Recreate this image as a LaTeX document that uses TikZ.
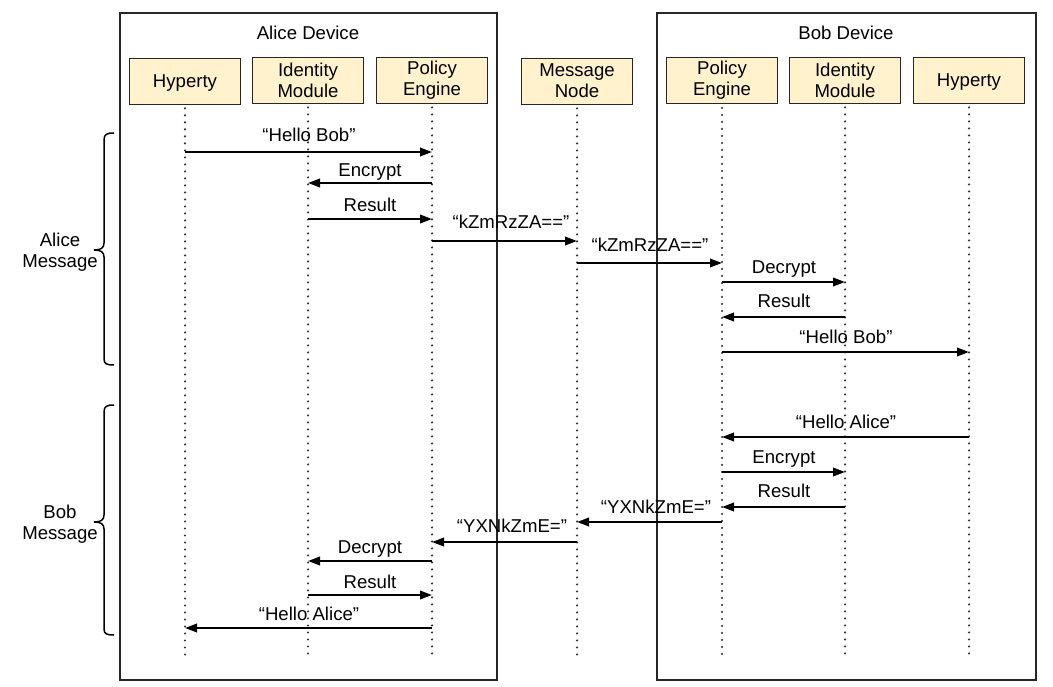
\documentclass[tikz,border=0pt]{standalone}
\usepackage{fontspec}
\setmainfont{Liberation Sans}
\usetikzlibrary{arrows.meta}
\definecolor{boxfill}{HTML}{FFF2CC}
\begin{document}
\begin{tikzpicture}[x=1pt,y=-1pt,
  every node/.style={font=\fontsize{18.6}{21}\selectfont},
  devbox/.style={draw=black!85, line width=1.1pt, minimum width=#1, minimum height=667pt, inner sep=0pt},
  part/.style={draw=black!85, line width=0.9pt, fill=boxfill, minimum width=111pt, minimum height=46pt, inner sep=0pt, align=center},
  life/.style={draw=black!80, line width=2.4pt, line cap=round, dash pattern=on 0pt off 7pt},
  msg/.style={line width=2pt, -{Triangle[length=12pt,width=8.5pt]}},
  lbl/.style={anchor=base, inner sep=0pt},
  brace/.style={line width=1.5pt}]
\useasboundingbox (0,0) rectangle (1053,687);

% device boxes
\node[devbox=377pt] (alice) at (308.5,346.5) {};
\node[devbox=379pt] (bob) at (846.5,346.5) {};
\node[lbl] (alicet) at (308,40) {Alice Device};
\node[lbl] (bobt) at (846,40) {Bob Device};

% participants
\node[part] (aH) at (185,81) {};
\node[lbl] (aHt) at (185,88) {Hyperty};
\node[part] (aI) at (308,80) {Identity\\Module};
\node[part] (aP) at (432,80) {Policy\\Engine};
\node[part] (mn) at (577,81) {Message\\Node};
\node[part] (bP) at (722,80.5) {Policy\\Engine};
\node[part] (bI) at (845,80) {Identity\\Module};
\node[part] (bH) at (969,80) {};
\node[lbl] (bHt) at (969,87) {Hyperty};

% lifelines
\foreach \n in {aH,aI,aP,mn,bP,bI,bH}{
  \draw[life] (\n.south) ++(0,4) -- (\n.south |- 0,659);
}

% Alice message
\draw[msg] (aH |- 0,152) -- (aP |- 0,152);
\node[lbl] (m1) at (309,142) {“Hello Bob”};
\draw[msg] (aP |- 0,183) -- (aI |- 0,183);
\node[lbl] (m2) at (370,177) {Encrypt};
\draw[msg] (aI |- 0,219) -- (aP |- 0,219);
\node[lbl] (m3) at (370,212) {Result};
\draw[msg] (aP |- 0,241) -- (mn |- 0,241);
\node[lbl] (m4) at (511,228.5) {“kZmRzZA==”};
\draw[msg] (mn |- 0,263) -- (bP |- 0,263);
\node[lbl] (m5) at (650,252) {“kZmRzZA==”};
\draw[msg] (bP |- 0,282) -- (bI |- 0,282);
\node[lbl] (m6) at (784,274) {Decrypt};
\draw[msg] (bI |- 0,317) -- (bP |- 0,317);
\node[lbl] (m7) at (784,308) {Result};
\draw[msg] (bP |- 0,352) -- (bH |- 0,352);
\node[lbl] (m8) at (846,343) {“Hello Bob”};

% Bob message
\draw[msg] (bH |- 0,437) -- (bP |- 0,437);
\node[lbl] (n1) at (846,428) {“Hello Alice”};
\draw[msg] (bP |- 0,472) -- (bI |- 0,472);
\node[lbl] (n2) at (784,463) {Encrypt};
\draw[msg] (bI |- 0,507) -- (bP |- 0,507);
\node[lbl] (n3) at (784,497) {Result};
\draw[msg] (bP |- 0,522) -- (mn |- 0,522);
\node[lbl] (n4) at (656,513) {“YXNkZmE=”};
\draw[msg] (mn |- 0,542) -- (aP |- 0,542);
\node[lbl] (n5) at (512,532.5) {“YXNkZmE=”};
\draw[msg] (aP |- 0,561) -- (aI |- 0,561);
\node[lbl] (n6) at (370,553) {Decrypt};
\draw[msg] (aI |- 0,595) -- (aP |- 0,595);
\node[lbl] (n7) at (370,588) {Result};
\draw[msg] (aP |- 0,628) -- (aH |- 0,628);
\node[lbl] (n8) at (309,620) {“Hello Alice”};

% braces
\draw[brace] (114,133) .. controls (107,133) and (104,134) .. (104,140)
  -- (104,243) .. controls (104,248) and (101,250) .. (94,250)
  .. controls (101,250) and (104,252) .. (104,257)
  -- (104,359) .. controls (104,364) and (107,365) .. (114,365);
\node[align=center, inner sep=0pt] (am) at (60,252) {Alice\\Message};

\draw[brace] (114,405) .. controls (107,405) and (104,406) .. (104,412)
  -- (104,515) .. controls (104,520) and (101,522) .. (94,522)
  .. controls (101,522) and (104,524) .. (104,529)
  -- (104,629) .. controls (104,634) and (107,635) .. (114,635);
\node[align=center, inner sep=0pt] (bm) at (60,524) {Bob\\Message};
\end{tikzpicture}
\end{document}
